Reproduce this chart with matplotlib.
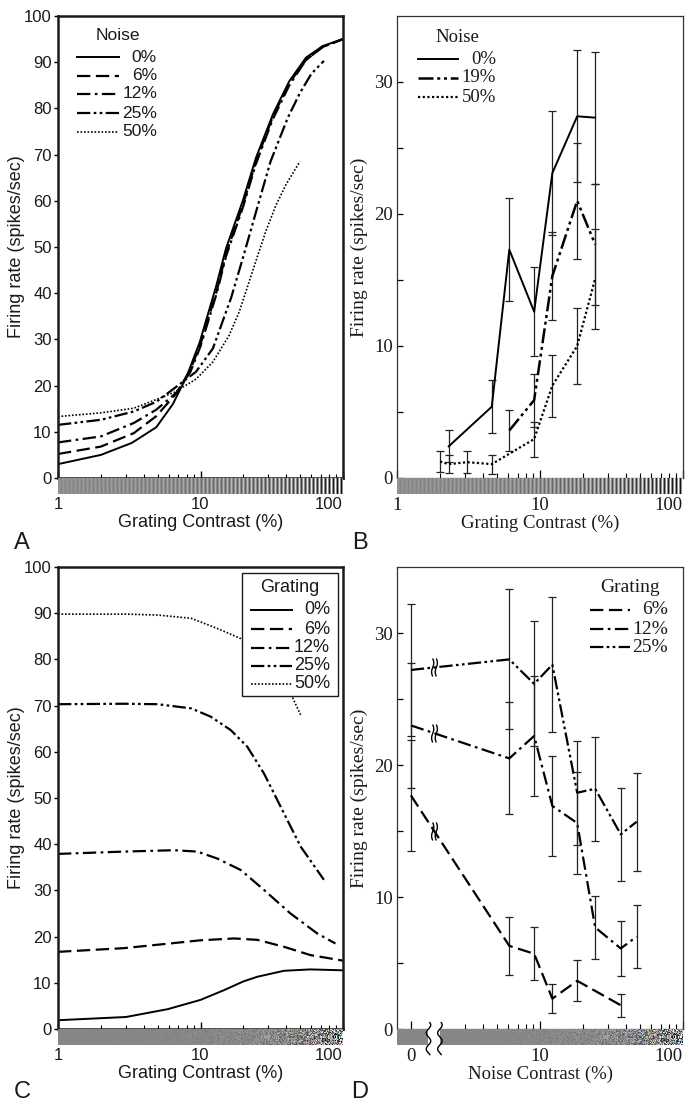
import numpy as np
import matplotlib.pyplot as plt
from matplotlib.lines import Line2D
from matplotlib.patches import Rectangle
from matplotlib.path import Path
from matplotlib.ticker import FixedLocator, FixedFormatter, NullFormatter

W, H = 686, 1103
SANS = 'Liberation Sans'
SERIF = 'Liberation Serif'
INK = '#1a1a1a'

# ---------------- data ----------------
# A: fitted firing rate vs grating contrast, one curve per noise level
a_labels = ['0%', '6%', '12%', '25%', '50%']
a0_x = [1, 2, 3.3, 4.9, 6.4, 8, 9.85, 12.9, 15.1, 19.8, 24.5, 32.2, 42, 55, 72, 100]
a0_y = [3.0, 5.0, 7.6, 11.0, 16.0, 22.0, 29.3, 41.6, 49.7, 60.0, 69.3, 78.7, 85.9, 91.0, 93.5, 95.0]
a6_x = [1, 2, 3.4, 4.9, 6.8, 8.5, 10, 13, 15.1, 19.8, 24.5, 32, 42, 55, 72, 100]
a6_y = [5.2, 6.8, 9.7, 13.4, 18.4, 23.5, 29.0, 40.5, 48.5, 59.0, 68.5, 78.0, 85.5, 90.5, 93.3, 95.0]
a12_x = [1, 2, 3.4, 4.9, 6.8, 8.5, 10, 13, 15.1, 19.8, 24.5, 32, 42, 55, 72, 100]
a12_y = [7.7, 9.0, 11.9, 14.8, 18.5, 23.0, 28.5, 40.0, 48.0, 58.5, 68.0, 77.5, 85.0, 90.5, 93.3, 95.0]
a25_x = [1, 2, 3.4, 4.9, 6.8, 9.3, 12.2, 16.4, 20, 25, 31, 41, 50, 60, 73.5]
a25_y = [11.5, 12.6, 14.4, 16.5, 19.8, 23.0, 28.0, 39.0, 48.0, 58.5, 68.5, 78.0, 83.4, 87.5, 90.3]
a50_x = [1, 2, 3.4, 4.9, 6.5, 9.3, 12.2, 15.9, 18.7, 20.9, 24.5, 28.8, 33.8, 39.8, 49.8]
a50_y = [13.3, 14.1, 15.1, 17.0, 18.5, 21.4, 25.1, 30.9, 36.0, 40.5, 47.0, 53.5, 59.0, 63.5, 68.5]

# B: measured firing rate vs grating contrast (mean +- error), per noise level
b_labels = ['0%', '19%', '50%']
b0_x = [2.3, 4.6, 6.1, 9.1, 12.2, 18.2, 24.3]
b0_y = [2.4, 5.4, 17.3, 12.6, 23.1, 27.4, 27.3]
b0_e = [1.2, 2.0, 3.9, 3.35, 4.7, 5.0, 5.0]
b19_x = [6.1, 9.1, 12.2, 18.2, 24.3]
b19_y = [3.6, 5.9, 15.3, 21.0, 17.7]
b19_e = [1.55, 2.0, 3.3, 4.4, 4.6]
b50_x = [2.0, 2.3, 3.1, 4.6, 9.1, 12.2, 18.2, 24.3]
b50_y = [1.25, 1.05, 1.2, 1.05, 2.95, 7.0, 10.0, 15.1]
b50_e = [0.83, 0.7, 0.82, 0.73, 1.33, 2.35, 2.85, 3.8]

# C: fitted firing rate vs noise contrast, one curve per grating level
c_labels = ['0%', '6%', '12%', '25%', '50%']
c0_x = [1, 3, 5.9, 10, 14.6, 20, 25, 38.5, 59, 100]
c0_y = [1.9, 2.6, 4.3, 6.3, 8.4, 10.3, 11.3, 12.6, 12.9, 12.7]
c6_x = [1, 2.9, 6.5, 10, 17.2, 25, 38.5, 59, 100]
c6_y = [16.7, 17.5, 18.6, 19.2, 19.6, 19.3, 17.8, 16.0, 14.8]
c12_x = [1, 2.9, 6.5, 9.5, 13.1, 19.2, 27.9, 42.8, 65.8, 88.5]
c12_y = [37.9, 38.4, 38.7, 38.4, 36.9, 34.4, 30.1, 25.0, 20.7, 18.5]
c25_x = [1, 2.9, 5, 8.6, 11.8, 16.3, 21.3, 27.9, 38.5, 50.4, 73.4]
c25_y = [70.3, 70.4, 70.3, 69.4, 67.6, 64.7, 61.1, 55.3, 46.7, 39.5, 32.3]
c50_x = [1, 3, 5, 8.6, 13.1, 19.2, 27, 35, 42.8, 50.4]
c50_y = [89.8, 89.8, 89.6, 88.9, 86.7, 84.5, 80.5, 76.5, 72.7, 68.0]

# D: measured firing rate vs noise contrast (0 = no noise), per grating level
d_labels = ['6%', '12%', '25%']
d6_x = [0, 6.1, 9.1, 12.2, 18.2, 36.7]
d6_y = [17.7, 6.3, 5.7, 2.3, 3.65, 1.8]
d6_e = [4.2, 2.2, 2.0, 1.1, 1.55, 0.86]
d12_x = [0, 6.1, 9.1, 12.2, 18.2, 24.3, 36.7, 47.4]
d12_y = [23.0, 20.5, 22.2, 16.9, 15.6, 7.7, 6.1, 7.0]
d12_e = [4.76, 4.24, 4.57, 3.8, 3.85, 2.4, 2.1, 2.4]
d25_x = [0, 6.1, 9.1, 12.2, 18.2, 24.3, 36.7, 47.4]
d25_y = [27.2, 28.0, 26.15, 27.6, 17.9, 18.2, 14.75, 15.7]
d25_e = [5.0, 5.3, 4.73, 5.1, 3.93, 3.93, 3.5, 3.7]

ZERO_POS = 1.25   # where the 0% noise column sits on the log axis
BREAK_POS = 1.82  # axis break between 0 and the first noise level

# ---------------- styles ----------------
SOLID = '-'
DASH = (0, (6, 2.5))
DASHDOT = (0, (6, 2, 1.2, 2))
DASHDOT2 = (0, (6, 1.5, 1.2, 1.5, 1.2, 1.5))
DOT = (0, (1, 1.1))


def squiggle_path():
    t = np.linspace(-1, 1, 25)
    s = 0.12 * np.sin(np.pi * t)
    verts = list(zip(s - 0.2, t)) + list(zip(s + 0.2, t))
    codes = [Path.MOVETO] + [Path.LINETO] * 24 + [Path.MOVETO] + [Path.LINETO] * 24
    return Path(verts, codes)


def hash_field(shape, seed):
    i, j = np.indices(shape)
    v = np.sin(i * 12.9898 + j * 78.233 + seed * 4.1414) * 43758.5453
    return v - np.floor(v) - 0.5


def grating_strip(ncol, nrow=16, period=4.0):
    col = np.arange(ncol)
    contrast = (10 ** (2 * (col + 0.5) / ncol) / 100) ** 0.6
    row = np.clip(0.56 + 0.5 * contrast * np.sin(2 * np.pi * col / period), 0, 1)
    img = np.tile(row, (nrow, 1))
    return np.dstack([img] * 3)


def noise_strip(ncol, nrow=16):
    j = np.indices((nrow, ncol))[1]
    contrast = (10 ** (2 * (j + 0.5) / ncol) / 100) ** 1.2
    common = hash_field((nrow, ncol), 1)
    chans = [0.53 + contrast * (1.1 * common + 0.3 * hash_field((nrow, ncol), k)) for k in (2, 3, 4)]
    return np.clip(np.dstack(chans), 0, 1)


fig = plt.figure(figsize=(W / 100, H / 100), dpi=100)


def axes_px(l, t, r, b):
    return fig.add_axes([l / W, 1 - b / H, (r - l) / W, (b - t) / H])


def fx(x):
    return x / W


def fy(y):
    return 1 - y / H


def manual_legend(title, labels, styles, hx0, hx1, tx, ty, txr, rows, family, size, lws, frame=None):
    if frame is not None:
        l, t, r, b = frame
        fig.add_artist(Rectangle((fx(l), fy(b)), fx(r - l), (b - t) / H, transform=fig.transFigure,
                                 facecolor='white', edgecolor=INK, lw=1.0, zorder=5))
    fig.text(fx(tx), fy(ty), title, family=family, fontsize=size, ha='center', va='center',
             color=INK, zorder=6)
    for lab, ls, y, lw in zip(labels, styles, rows, lws):
        fig.add_artist(Line2D([fx(hx0), fx(hx1)], [fy(y), fy(y)], transform=fig.transFigure,
                              color='black', ls=ls, lw=lw, zorder=6))
        fig.text(fx(txr), fy(y), lab, family=family, fontsize=size, ha='right',
                 va='center', color=INK, zorder=6)


def finish_ticklabels(ax, family, size):
    labs = ax.get_xticklabels()
    for lab in labs + ax.get_yticklabels():
        lab.set_family(family)
        lab.set_fontsize(size)
        lab.set_color(INK)
    labs[-1].set_horizontalalignment('right')


def style_curve_axes(ax):
    ax.set_xscale('log')
    ax.set_xlim(1, 100)
    ax.set_ylim(0, 100)
    ax.set_yticks(range(0, 101, 10))
    ax.xaxis.set_major_locator(FixedLocator([1, 10, 100]))
    ax.xaxis.set_major_formatter(FixedFormatter(['1', '10', '100']))
    ax.xaxis.set_minor_locator(FixedLocator([2, 3, 4, 5, 6, 7, 8, 9, 20, 30, 40, 50, 60, 70, 80, 90]))
    ax.xaxis.set_minor_formatter(NullFormatter())
    ax.tick_params(axis='x', which='major', direction='in', length=5, pad=14, width=1)
    ax.tick_params(axis='x', which='minor', direction='in', length=3, width=0.8)
    ax.tick_params(axis='y', direction='out', length=3, pad=1.5, width=1)
    finish_ticklabels(ax, SANS, 12)
    for s in ax.spines.values():
        s.set_linewidth(1.8)
        s.set_color(INK)
    ax.set_ylabel('Firing rate (spikes/sec)', family=SANS, fontsize=13, color=INK)
    ax.yaxis.set_label_coords(-0.115, 0.5)
    ax.set_xlabel('Grating Contrast (%)', family=SANS, fontsize=13, color=INK, labelpad=1)


def style_data_axes(ax, xlabel):
    ax.set_xscale('log')
    ax.set_xlim(1, 100)
    ax.set_ylim(0, 35)
    ax.yaxis.set_major_locator(FixedLocator([0, 10, 20, 30]))
    ax.yaxis.set_minor_locator(FixedLocator([5, 15, 25]))
    ax.tick_params(axis='y', which='both', direction='in', length=4, pad=3, width=0.9)
    ax.tick_params(axis='x', which='major', direction='in', length=6, pad=14, width=0.9)
    ax.tick_params(axis='x', which='minor', direction='in', length=3.5, width=0.8)
    for s in ax.spines.values():
        s.set_linewidth(0.9)
        s.set_color('#333333')
    ax.set_ylabel('Firing rate (spikes/sec)', family=SERIF, fontsize=14, color=INK)
    ax.yaxis.set_label_coords(-0.1, 0.5)
    ax.set_xlabel(xlabel, family=SERIF, fontsize=13.5, color=INK, labelpad=0)


def style_bar(ax, img):
    ax.imshow(img, aspect='auto', extent=(0, 1, 0, 1), interpolation='nearest')
    ax.set_xlim(0, 1)
    ax.set_ylim(0, 1)
    ax.axis('off')


# ---------------- panel A ----------------
axA = axes_px(58, 16, 343, 478)
barA = axes_px(58, 478, 343, 494)
a_series = [(a0_x, a0_y, SOLID, 1.4), (a6_x, a6_y, DASH, 1.6), (a12_x, a12_y, DASHDOT, 1.6),
            (a25_x, a25_y, DASHDOT2, 1.6), (a50_x, a50_y, DOT, 1.2)]
for xs, ys, ls, lw in a_series:
    axA.plot(xs, ys, color='black', ls=ls, lw=lw)
style_curve_axes(axA)
style_bar(barA, grating_strip(285))

# ---------------- panel C ----------------
axC = axes_px(58, 567, 343, 1029)
barC = axes_px(58, 1029, 343, 1045)
c_series = [(c0_x, c0_y, SOLID, 1.4), (c6_x, c6_y, DASH, 1.6), (c12_x, c12_y, DASHDOT, 1.6),
            (c25_x, c25_y, DASHDOT2, 1.6), (c50_x, c50_y, DOT, 1.2)]
for xs, ys, ls, lw in c_series:
    axC.plot(xs, ys, color='black', ls=ls, lw=lw)
style_curve_axes(axC)
style_bar(barC, noise_strip(285))

# ---------------- panel B ----------------
axB = axes_px(397, 16, 683, 478)
barB = axes_px(397, 478, 683, 494)
b_series = [(b0_x, b0_y, b0_e, SOLID, 1.4), (b19_x, b19_y, b19_e, DASHDOT2, 1.8),
            (b50_x, b50_y, b50_e, DOT, 1.6)]
for xs, ys, es, ls, lw in b_series:
    axB.errorbar(xs, ys, yerr=es, fmt='none', ecolor='#222222', elinewidth=0.9,
                 capsize=3, capthick=0.9)
    axB.plot(xs, ys, color='black', ls=ls, lw=lw)
style_data_axes(axB, 'Grating Contrast (%)')
axB.xaxis.set_major_locator(FixedLocator([1, 10, 100]))
axB.xaxis.set_major_formatter(FixedFormatter(['1', '10', '100']))
axB.xaxis.set_minor_locator(FixedLocator([2, 3, 4, 5, 6, 7, 8, 9, 20, 30, 40, 50, 60, 70, 80, 90]))
axB.xaxis.set_minor_formatter(NullFormatter())
finish_ticklabels(axB, SERIF, 13.5)
style_bar(barB, grating_strip(286))

# ---------------- panel D ----------------
axD = axes_px(397, 567, 683, 1029)
barD = axes_px(397, 1029, 683, 1045)
squig = squiggle_path()
d_series = [(d6_x, d6_y, d6_e, DASH, 1.6), (d12_x, d12_y, d12_e, DASHDOT, 1.6),
            (d25_x, d25_y, d25_e, DASHDOT2, 1.6)]
for xs, ys, es, ls, lw in d_series:
    pos = [ZERO_POS if v == 0 else v for v in xs]
    axD.errorbar(pos, ys, yerr=es, fmt='none', ecolor='#222222', elinewidth=0.9,
                 capsize=3, capthick=0.9)
    axD.plot(pos, ys, color='black', ls=ls, lw=lw)
    # break mark on the segment from 0 to the first noise level
    f = (np.log10(BREAK_POS) - np.log10(pos[0])) / (np.log10(pos[1]) - np.log10(pos[0]))
    yb = ys[0] + f * (ys[1] - ys[0])
    axD.plot([BREAK_POS], [yb], marker=squig, ms=13, mfc='none', mec='black', mew=1.0, ls='none')
style_data_axes(axD, 'Noise Contrast (%)')
axD.xaxis.set_major_locator(FixedLocator([ZERO_POS, 10, 100]))
axD.xaxis.set_major_formatter(FixedFormatter(['0', '10', '100']))
axD.xaxis.set_minor_locator(FixedLocator([3, 4, 5, 6, 7, 8, 9, 20, 30, 40, 50, 60, 70, 80, 90]))
axD.xaxis.set_minor_formatter(NullFormatter())
finish_ticklabels(axD, SERIF, 13.5)
style_bar(barD, noise_strip(286))
# axis break on the noise strip
bf = np.log10(BREAK_POS) / 2
barD.add_patch(Rectangle((bf - 0.02, -0.1), 0.04, 1.2, facecolor='white', edgecolor='none',
                         clip_on=False, zorder=3))
tt = np.linspace(-0.6, 1.4, 30)
for edge in (bf - 0.02, bf + 0.02):
    barD.plot(edge + 0.008 * np.sin(2 * np.pi * tt), tt, color='black', lw=1.0,
              clip_on=False, zorder=4)

# ---------------- legends ----------------
manual_legend('Noise', a_labels, [SOLID, DASH, DASHDOT, DASHDOT2, DOT], 77, 119, 118, 35, 157,
              [57, 76, 94, 113, 132], SANS, 12.5, [1.4, 1.6, 1.6, 1.6, 1.2])
manual_legend('Noise', b_labels, [SOLID, DASHDOT2, DOT], 418, 458, 457, 37, 496,
              [59, 78, 97], SERIF, 13.5, [1.4, 1.8, 1.6])
manual_legend('Grating', c_labels, [SOLID, DASH, DASHDOT, DASHDOT2, DOT], 251, 292, 290, 588, 330,
              [610, 629, 648, 666, 684], SANS, 13, [1.4, 1.6, 1.6, 1.6, 1.2],
              frame=(242, 573, 338, 696))
manual_legend('Grating', d_labels, [DASH, DASHDOT, DASHDOT2], 590, 630, 630, 588, 668,
              [610, 629, 647], SERIF, 14, [1.6, 1.6, 1.6])

# ---------------- panel letters ----------------
for letter, x, y in [('A', 22, 543), ('B', 360, 543), ('C', 22, 1092), ('D', 360, 1092)]:
    fig.text(fx(x), fy(y), letter, family=SANS, fontsize=17, ha='center', va='center', color=INK)

fig.savefig('out.png', dpi=100)
